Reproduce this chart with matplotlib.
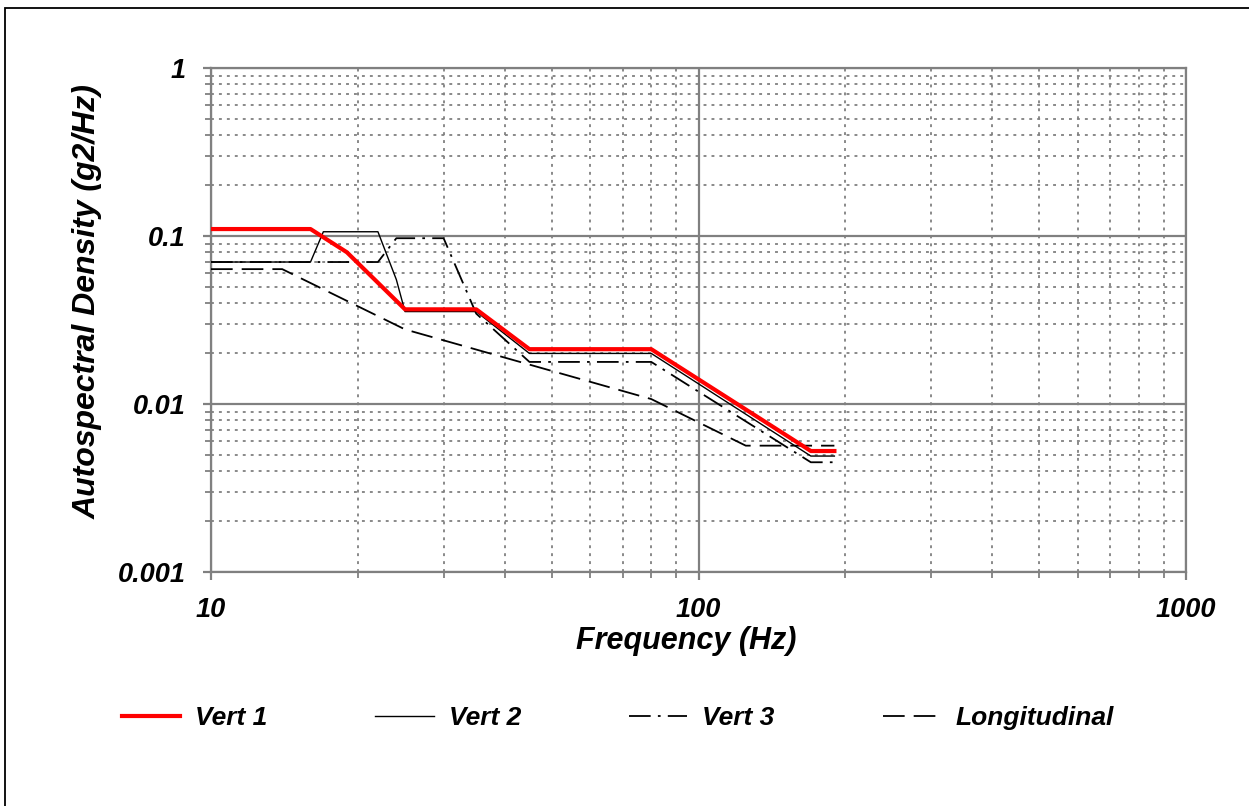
import matplotlib
matplotlib.use("Agg")
import matplotlib.pyplot as plt
from matplotlib.ticker import LogLocator, NullFormatter, FixedLocator, FixedFormatter
from matplotlib.patches import Rectangle

# ---- data ----
vert1_f = [10, 16, 19, 25, 35, 45, 80, 170, 190]
vert1_v = [0.11, 0.11, 0.08, 0.0366, 0.0366, 0.0212, 0.0212, 0.00525, 0.00525]

vert2_f = [10, 16, 17, 22, 24, 25, 35, 45, 80, 170, 190]
vert2_v = [0.07, 0.07, 0.106, 0.106, 0.055, 0.0355, 0.0355, 0.020, 0.020, 0.0049, 0.0049]

vert3_f = [10, 22, 24, 30, 35, 45, 80, 170, 190]
vert3_v = [0.07, 0.07, 0.097, 0.097, 0.0345, 0.0178, 0.0178, 0.0045, 0.0045]

long_f = [10, 14, 25, 80, 125, 190]
long_v = [0.0635, 0.0635, 0.0278, 0.0107, 0.00565, 0.00565]

x_ticks = [10, 100, 1000]
x_tick_labels = ["10", "100", "1000"]
y_ticks = [0.001, 0.01, 0.1, 1]
y_tick_labels = ["0.001", "0.01", "0.1", "1"]

series_names = ["Vert 1", "Vert 2", "Vert 3", "Longitudinal"]

FONT = ["Liberation Sans", "DejaVu Sans"]
plt.rcParams['font.family'] = FONT

fig = plt.figure(figsize=(12.49, 8.06), dpi=100)
ax = fig.add_axes([211/1249, 1-572/806, (1186-211)/1249, (572-68)/806])

grey = "#808080"
ax.set_xscale("log")
ax.set_yscale("log")
ax.set_xlim(10, 1000)
ax.set_ylim(0.001, 1)

# grid
ax.grid(which="major", color=grey, lw=1.6, ls="-")
ax.grid(which="minor", color=grey, lw=1.3, ls=(0, (1.6, 2.8)))
ax.set_axisbelow(True)

ax.xaxis.set_major_locator(FixedLocator(x_ticks))
ax.xaxis.set_major_formatter(FixedFormatter(x_tick_labels))
ax.yaxis.set_major_locator(FixedLocator(y_ticks))
ax.yaxis.set_major_formatter(FixedFormatter(y_tick_labels))
ax.xaxis.set_minor_locator(LogLocator(base=10, subs=range(2, 10)))
ax.yaxis.set_minor_locator(LogLocator(base=10, subs=range(2, 10)))
ax.xaxis.set_minor_formatter(NullFormatter())
ax.yaxis.set_minor_formatter(NullFormatter())

ax.tick_params(which="major", direction="out", length=6, width=1.6, color=grey,
               labelsize=19.5, pad=12)
ax.tick_params(which="minor", direction="out", length=4, width=1.3, color=grey)
for lab in ax.get_xticklabels() + ax.get_yticklabels():
    lab.set_fontweight("bold")
    lab.set_fontstyle("italic")
    lab.set_family(FONT)

for s in ax.spines.values():
    s.set_color(grey)
    s.set_linewidth(1.6)

l2, = ax.plot(vert2_f, vert2_v, color="black", lw=1.0, ls="-", zorder=3)
l3, = ax.plot(vert3_f, vert3_v, color="black", lw=1.3, ls=(0, (12, 4, 1.5, 4)), zorder=3)
l4, = ax.plot(long_f, long_v, color="black", lw=1.3, ls=(0, (12, 5)), zorder=3)
l1, = ax.plot(vert1_f, vert1_v, color="red", lw=3.0, ls="-", zorder=4)

fig.text(686/1249, 1-641/806, "Frequency (Hz)", fontsize=22, fontweight="bold",
         fontstyle="italic", ha="center", va="center")
fig.text(88/1249, 1-302/806, "Autospectral Density (g2/Hz)", rotation=90,
         fontsize=23, fontweight="bold", fontstyle="italic", ha="center", va="center")

leg = fig.legend([l1, l2, l3, l4], series_names, loc="center",
                 bbox_to_anchor=(618/1249, 1-718/806), ncol=4, frameon=False,
                 prop=dict(family=FONT, weight="bold", style="italic", size=19),
                 handlelength=2.2, handletextpad=0.57, columnspacing=4.1)

fig.patches.append(Rectangle((4.5/1249, -0.05), 1.2, 1-8/806+0.05,
                             transform=fig.transFigure, fill=False,
                             edgecolor="black", lw=1.3))

fig.savefig("out.png", dpi=100)
